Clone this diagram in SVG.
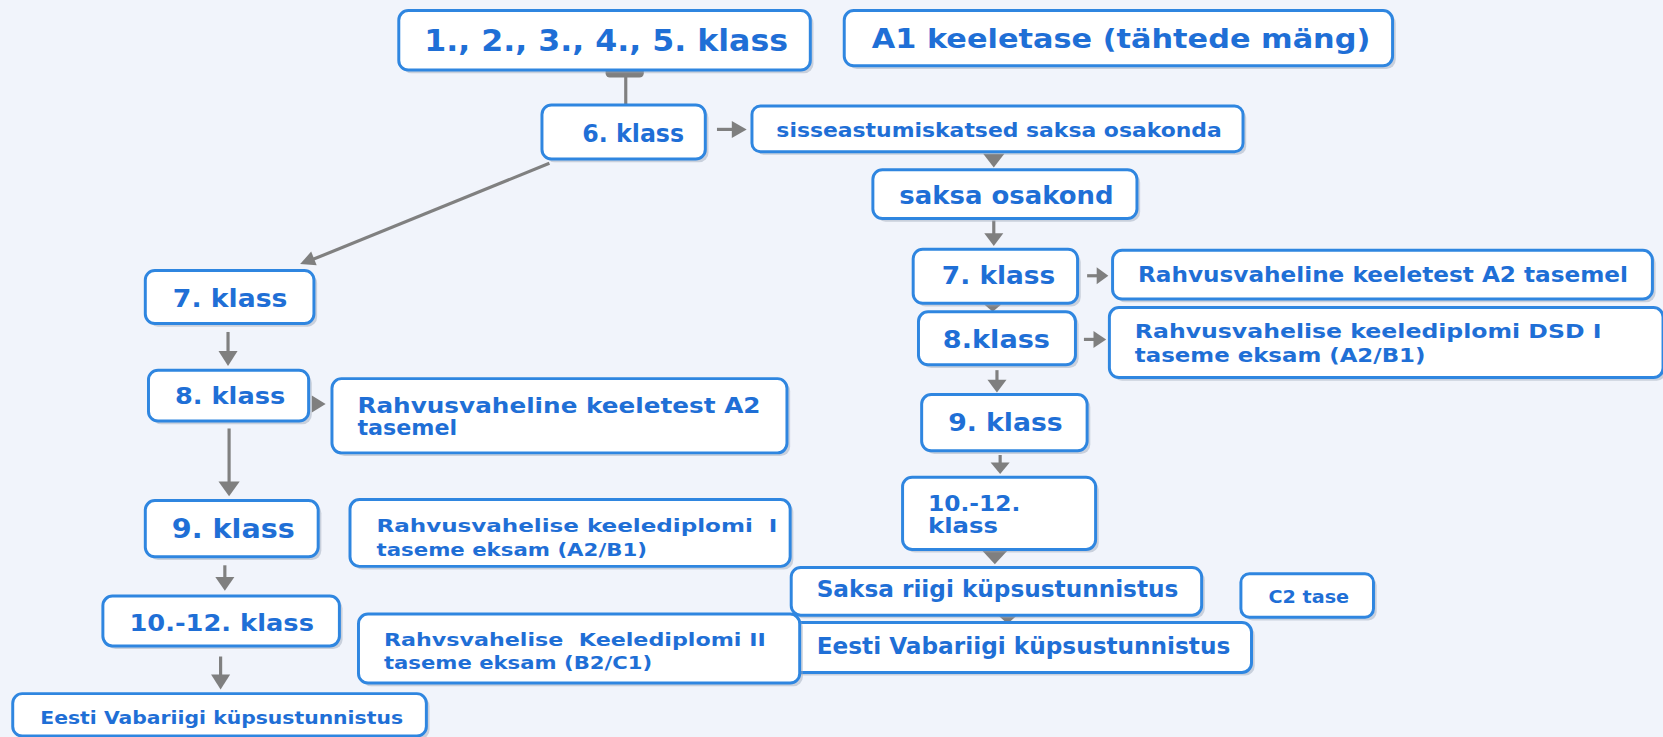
<svg xmlns="http://www.w3.org/2000/svg" width="1663" height="737" viewBox="0 0 1663 737">
<defs>
<style>
.bg{fill:#f1f4fb}
.n rect.b{fill:#ffffff;stroke:#2f86e0;stroke-width:2.8}
.n rect.s{fill:#9aa3b5;opacity:0.45}
.n text{font-family:"DejaVu Sans",Verdana,sans-serif;font-weight:bold;fill:#1f6fd6;white-space:pre}
.c line{stroke:#808080;stroke-width:3;fill:none}
.c polygon,.c rect{fill:#7f7f7f}
</style>
</defs>
<rect class="bg" x="0" y="0" width="1663" height="737"/>
<g transform="scale(1.0606)">
<g class="c" id="connectors">
<rect x="571" y="63" width="36" height="10" rx="4"/>
<line x1="590" y1="70" x2="590" y2="99"/>
<line x1="676" y1="122" x2="692" y2="122"/>
<polygon points="690,114 704,122 690,130"/>
<polygon points="927,145 947,145 937,158"/>
<line x1="937" y1="208" x2="937" y2="222"/>
<polygon points="928,220 946,220 937,232"/>
<line x1="1025" y1="260" x2="1036" y2="260"/>
<polygon points="1034,252 1045,260 1034,268"/>
<polygon points="928,287 944,287 936,294"/>
<line x1="1022" y1="320" x2="1033" y2="320"/>
<polygon points="1031,312 1043,320 1031,328"/>
<line x1="940" y1="349" x2="940" y2="360"/>
<polygon points="931,358 949,358 940,370"/>
<line x1="943" y1="429" x2="943" y2="438"/>
<polygon points="934,436 952,436 943,447"/>
<polygon points="926,519 950,519 938,532"/>
<polygon points="942,581 958,581 950,588"/>
<line x1="518" y1="154" x2="294" y2="245"/>
<polygon points="283,249 298.6,250.2 293.4,237.2"/>
<line x1="215" y1="313" x2="215" y2="333"/>
<polygon points="206,331 224,331 215,345"/>
<line x1="216" y1="404" x2="216" y2="456"/>
<polygon points="206,454 226,454 216,468"/>
<line x1="212" y1="533" x2="212" y2="546"/>
<polygon points="203,544 221,544 212,557"/>
<line x1="208" y1="619" x2="208" y2="638"/>
<polygon points="199,636 217,636 208,650"/>
<polygon points="294,373 307,381 294,389"/>
</g>

<g class="n" id="n1"><rect class="s" x="379" y="13" width="388" height="56" rx="9"/><rect class="b" x="376" y="10" width="388" height="56" rx="9"/><text x="400" y="48" font-size="28" textLength="343" lengthAdjust="spacingAndGlyphs">1., 2., 3., 4., 5. klass</text></g>
<g class="n" id="n2"><rect class="s" x="799" y="13" width="517" height="52" rx="9"/><rect class="b" x="796" y="10" width="517" height="52" rx="9"/><text x="822" y="45" font-size="25" textLength="470" lengthAdjust="spacingAndGlyphs">A1 keeletase (tähtede mäng)</text></g>
<g class="n" id="n3"><rect class="s" x="514" y="102" width="154" height="51" rx="9"/><rect class="b" x="511" y="99" width="154" height="51" rx="9"/><text x="549" y="134" font-size="24" textLength="96" lengthAdjust="spacingAndGlyphs">6. klass</text></g>
<g class="n" id="n4"><rect class="s" x="712" y="103" width="463" height="43" rx="8"/><rect class="b" x="709" y="100" width="463" height="43" rx="8"/><text x="732" y="129" font-size="19" textLength="420" lengthAdjust="spacingAndGlyphs">sisseastumiskatsed saksa osakonda</text></g>
<g class="n" id="n5"><rect class="s" x="826" y="163" width="249" height="46" rx="9"/><rect class="b" x="823" y="160" width="249" height="46" rx="9"/><text x="848" y="192" font-size="23" textLength="202" lengthAdjust="spacingAndGlyphs">saksa osakond</text></g>
<g class="n" id="n6"><rect class="s" x="864" y="238" width="155" height="51" rx="9"/><rect class="b" x="861" y="235" width="155" height="51" rx="9"/><text x="888" y="268" font-size="24" textLength="107" lengthAdjust="spacingAndGlyphs">7. klass</text></g>
<g class="n" id="n7"><rect class="s" x="1052" y="239" width="509" height="46" rx="9"/><rect class="b" x="1049" y="236" width="509" height="46" rx="9"/><text x="1073" y="266" font-size="20" textLength="462" lengthAdjust="spacingAndGlyphs">Rahvusvaheline keeletest A2 tasemel</text></g>
<g class="n" id="n8"><rect class="s" x="869" y="297" width="148" height="50" rx="9"/><rect class="b" x="866" y="294" width="148" height="50" rx="9"/><text x="889" y="328" font-size="24" textLength="101" lengthAdjust="spacingAndGlyphs">8.klass</text></g>
<g class="n" id="n9"><rect class="s" x="1049" y="293" width="522" height="66" rx="9"/><rect class="b" x="1046" y="290" width="522" height="66" rx="9"/><text x="1070" y="319" font-size="19" textLength="440" lengthAdjust="spacingAndGlyphs">Rahvusvahelise keelediplomi DSD I</text><text x="1070" y="341" font-size="19" textLength="274" lengthAdjust="spacingAndGlyphs">taseme eksam (A2/B1)</text></g>
<g class="n" id="n10"><rect class="s" x="872" y="375" width="156" height="53" rx="9"/><rect class="b" x="869" y="372" width="156" height="53" rx="9"/><text x="894" y="406" font-size="24" textLength="108" lengthAdjust="spacingAndGlyphs">9. klass</text></g>
<g class="n" id="n11"><rect class="s" x="854" y="453" width="182" height="68" rx="9"/><rect class="b" x="851" y="450" width="182" height="68" rx="9"/><text x="875" y="482" font-size="20" textLength="87" lengthAdjust="spacingAndGlyphs">10.-12.</text><text x="875" y="503" font-size="20" textLength="66" lengthAdjust="spacingAndGlyphs">klass</text></g>
<g class="n" id="n12"><rect class="s" x="749" y="538" width="387" height="45" rx="9"/><rect class="b" x="746" y="535" width="387" height="45" rx="9"/><text x="770" y="563" font-size="21" textLength="341" lengthAdjust="spacingAndGlyphs">Saksa riigi küpsustunnistus</text></g>
<g class="n" id="n13"><rect class="s" x="1173" y="544" width="125" height="41" rx="8"/><rect class="b" x="1170" y="541" width="125" height="41" rx="8"/><text x="1196" y="569" font-size="16" textLength="76" lengthAdjust="spacingAndGlyphs">C2 tase</text></g>
<g class="n" id="n14"><rect class="s" x="749" y="590" width="434" height="47" rx="9"/><rect class="b" x="746" y="587" width="434" height="47" rx="9"/><text x="770" y="617" font-size="21" textLength="390" lengthAdjust="spacingAndGlyphs">Eesti Vabariigi küpsustunnistus</text></g>

<g class="n" id="n15"><rect class="s" x="140" y="258" width="159" height="50" rx="9"/><rect class="b" x="137" y="255" width="159" height="50" rx="9"/><text x="163" y="289" font-size="24" textLength="108" lengthAdjust="spacingAndGlyphs">7. klass</text></g>
<g class="n" id="n16"><rect class="s" x="143" y="352" width="151" height="48" rx="9"/><rect class="b" x="140" y="349" width="151" height="48" rx="9"/><text x="165" y="381" font-size="22" textLength="104" lengthAdjust="spacingAndGlyphs">8. klass</text></g>
<g class="n" id="n17"><rect class="s" x="316" y="360" width="429" height="70" rx="9"/><rect class="b" x="313" y="357" width="429" height="70" rx="9"/><text x="337" y="389" font-size="20" textLength="380" lengthAdjust="spacingAndGlyphs">Rahvusvaheline keeletest A2</text><text x="337" y="410" font-size="20" textLength="94" lengthAdjust="spacingAndGlyphs">tasemel</text></g>
<g class="n" id="n18"><rect class="s" x="140" y="475" width="163" height="53" rx="9"/><rect class="b" x="137" y="472" width="163" height="53" rx="9"/><text x="162" y="507" font-size="25" textLength="116" lengthAdjust="spacingAndGlyphs">9. klass</text></g>
<g class="n" id="n19"><rect class="s" x="333" y="474" width="415" height="63" rx="9"/><rect class="b" x="330" y="471" width="415" height="63" rx="9"/><text x="355" y="502" font-size="16" textLength="378" lengthAdjust="spacingAndGlyphs">Rahvusvahelise keelediplomi  I</text><text x="355" y="524" font-size="16" textLength="255" lengthAdjust="spacingAndGlyphs">taseme eksam (A2/B1)</text></g>
<g class="n" id="n20"><rect class="s" x="100" y="565" width="223" height="47" rx="9"/><rect class="b" x="97" y="562" width="223" height="47" rx="9"/><text x="122" y="595" font-size="22" textLength="174" lengthAdjust="spacingAndGlyphs">10.-12. klass</text></g>
<g class="n" id="n21"><rect class="s" x="341" y="582" width="416" height="65" rx="9"/><rect class="b" x="338" y="579" width="416" height="65" rx="9"/><text x="362" y="609" font-size="17" textLength="360" lengthAdjust="spacingAndGlyphs">Rahvsvahelise  Keelediplomi II</text><text x="362" y="631" font-size="17" textLength="253" lengthAdjust="spacingAndGlyphs">taseme eksam (B2/C1)</text></g>
<g class="n" id="n22"><rect class="s" x="15" y="657" width="390" height="40" rx="9"/><rect class="b" x="12" y="654" width="390" height="40" rx="9"/><text x="38" y="683" font-size="17" textLength="342" lengthAdjust="spacingAndGlyphs">Eesti Vabariigi küpsustunnistus</text></g>
</g>
</svg>
